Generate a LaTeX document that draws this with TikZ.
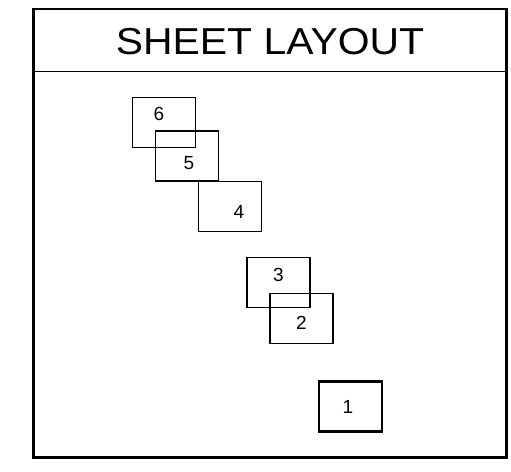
\documentclass[tikz,border=0pt]{standalone}
\usepackage{fontspec}
\setmainfont{Liberation Sans}
\usetikzlibrary{positioning}

\begin{document}
\begin{tikzpicture}[x=1pt,y=-1pt,
		every node/.style={inner sep=0pt},
		sheet/.style={draw, line width=1.8pt, minimum width=63pt, minimum height=50pt},
		num/.style={font=\fontsize{19}{22}\selectfont},
		]
		\useasboundingbox (0,0) rectangle (511,471);

		% outer frame and heading
		\draw[line width=2.6pt] (33.5,9) rectangle (506.5,457.5);
		\draw[line width=1.8pt] (33.5,71.5) -- (506.5,71.5);
		\node (title) at (270,41.5) {\scalebox{1.09}[1]{\fontsize{37.5}{44}\selectfont SHEET LAYOUT}};

		% sheets
		\node (s6) [sheet] at (164,122.5) {};
		\node (s5) [sheet] at (187,156) {};
		\node (s4) [sheet] at (230,206.5) {};
		\node (s3) [sheet] at (278.5,282.5) {};
		\node (s2) [sheet] at (301.5,318.5) {};
		\node (s1) [sheet, line width=2.3pt] at (350.5,406.5) {};

		% numbers
		\node (n6) [num] at ([shift={(-5,-8.5)}]s6.center) {6};
		\node (n5) [num] at ([shift={(2,7)}]s5.center) {5};
		\node (n4) [num] at ([shift={(9,5.5)}]s4.center) {4};
		\node (n3) [num] at ([shift={(0,-7.5)}]s3.center) {3};
		\node (n2) [num] at ([shift={(0,4.5)}]s2.center) {2};
		\node (n1) [num] at ([shift={(-2.5,0)}]s1.center) {1};

	\end{tikzpicture}
\end{document}
